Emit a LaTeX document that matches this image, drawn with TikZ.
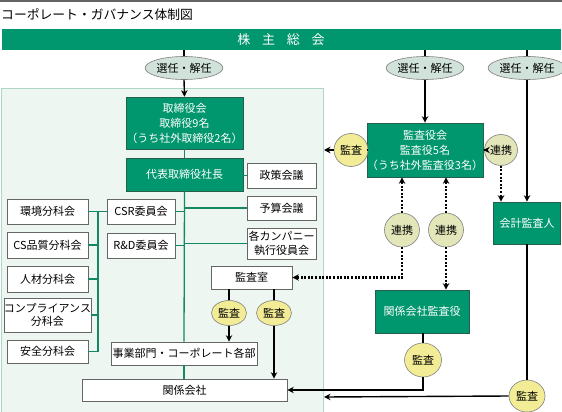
\documentclass[tikz,border=0pt]{standalone}
\usepackage{fontspec}
\setmainfont{Noto Sans CJK JP}
\usetikzlibrary{arrows.meta,shapes.geometric}
\definecolor{gfill}{RGB}{0,150,110}
\definecolor{gedge}{RGB}{40,95,75}
\definecolor{gline}{RGB}{20,135,100}
\definecolor{panelfill}{RGB}{238,246,241}
\definecolor{panelline}{RGB}{175,215,200}
\definecolor{selfill}{RGB}{208,226,217}
\definecolor{kansafill}{RGB}{242,236,150}
\definecolor{renfill}{RGB}{226,230,185}
\definecolor{topgray}{RGB}{100,100,100}
\begin{document}
\begin{tikzpicture}[x=1pt,y=-1pt,
 gbox/.style={draw=gedge, line width=0.6pt, fill=gfill, text=white, inner sep=0pt, align=center, font=\fontsize{11}{15}\selectfont},
 wbox/.style={draw=gray!80!black, line width=0.7pt, fill=white, inner sep=0pt, align=center, font=\fontsize{11}{13.5}\selectfont},
 selell/.style={ellipse, draw=gray, line width=0.6pt, fill=selfill, minimum width=63pt, minimum height=23pt, inner sep=0pt, font=\fontsize{11}{12}\selectfont},
 kansa/.style={ellipse, draw=gray, line width=0.6pt, fill=kansafill, inner sep=0pt, font=\fontsize{11}{12}\selectfont},
 renkei/.style={ellipse, draw=gray, line width=0.6pt, fill=renfill, inner sep=0pt, font=\fontsize{11}{12}\selectfont},
 arr/.style={line width=1.4pt, -{Stealth[length=6.5pt,width=6.5pt]}},
 ln/.style={line width=1.4pt},
 dotln/.style={line width=2.3pt, dash pattern=on 2pt off 1.6pt},
 dotarr/.style={dotln, -{Stealth[length=6.5pt,width=6.5pt]}},
 tree/.style={draw=gline, line width=1.3pt}
]
\useasboundingbox (0,0) rectangle (562,412);
% top line and title
\fill[topgray] (0,0) rectangle (562,1.8);
\node[anchor=west, inner sep=0pt, font=\fontsize{12.8}{14}\selectfont] (title) at (1,15) {コーポレート・ガバナンス体制図};
% panel
\draw[panelline, fill=panelfill, line width=1pt] (1.5,88) rectangle (323,413);
% bar
\node[fill=gfill, text=white, minimum width=559pt, minimum height=21pt, inner sep=0pt, font=\fontsize{13}{14}\selectfont] (bar) at (281,39.5) {株\hspace{0.9em}主\hspace{0.9em}総\hspace{0.9em}会};
% ellipses 選任・解任
\node[selell] (sn1) at (184,68) {選任・解任};
\node[selell] (sn2) at (425,68) {選任・解任};
\node[selell] (sn3) at (527,68) {選任・解任};
% green boxes
\node[gbox, minimum width=117pt, minimum height=52pt] (board) at (184.5,123) {取締役会\\取締役9名\\（うち社外取締役2名）};
\node[gbox, minimum width=117pt, minimum height=33pt] (pres) at (184.5,174.5) {代表取締役社長};
\node[gbox, minimum width=100pt, minimum height=54pt] (kansayaku) at (425,150) {監査役会\\監査役5名\\（うち社外監査役3名）};
\node[gbox, minimum width=67pt, minimum height=42pt] (kaikei) at (527,223) {会計監査人};
\node[gbox, minimum width=94pt, minimum height=43pt] (kankeikansa) at (422,311.5) {関係会社監査役};
% white boxes
\node[wbox, minimum width=69pt, minimum height=25pt] (seisaku) at (281.5,175.5) {政策会議};
\node[wbox, minimum width=69pt, minimum height=24pt] (yosan) at (281.5,208) {予算会議};
\node[wbox, minimum width=69pt, minimum height=31pt] (company) at (281.5,243.5) {各カンパニー\\執行役員会};
\node[wbox, minimum width=68pt, minimum height=25pt] (csr) at (141,211.5) {CSR委員会};
\node[wbox, minimum width=68pt, minimum height=25pt] (rd) at (141,245.5) {R\&D委員会};
\node[wbox, minimum width=81pt, minimum height=25pt] (kankyo) at (47.5,211.5) {環境分科会};
\node[wbox, minimum width=81pt, minimum height=26pt] (csq) at (47.5,245) {CS品質分科会};
\node[wbox, minimum width=81pt, minimum height=26pt] (jinzai) at (47.5,279) {人材分科会};
\node[wbox, minimum width=81pt, minimum height=34pt] (comp) at (47.5,315) {コンプライアンス\\分科会};
\node[wbox, minimum width=81pt, minimum height=23pt] (anzen) at (47.5,351.5) {安全分科会};
\node[wbox, minimum width=81pt, minimum height=23pt] (kansashitsu) at (251.5,277.5) {監査室};
\node[wbox, minimum width=146pt, minimum height=23pt] (jigyo) at (184,353.5) {事業部門・コーポレート各部};
\node[wbox, minimum width=205pt, minimum height=22pt] (kankei) at (184.5,390) {関係会社};
% audit / cooperation circles
\node[kansa, minimum width=34pt, minimum height=33pt] (ka1) at (351,150) {監査};
\node[renkei, minimum width=33pt, minimum height=31pt] (rk1) at (501,150) {連携};
\node[renkei, minimum width=35pt, minimum height=34pt] (rk2) at (402,230) {連携};
\node[renkei, minimum width=35pt, minimum height=34pt] (rk3) at (446,230) {連携};
\node[kansa, minimum width=35pt, minimum height=25pt] (ka2) at (229,313) {監査};
\node[kansa, minimum width=35pt, minimum height=25pt] (ka3) at (274,313) {監査};
\node[kansa, minimum width=37pt, minimum height=34pt] (ka4) at (423,360) {監査};
\node[kansa, minimum width=36pt, minimum height=32pt] (ka5) at (527,396) {監査};
\coordinate (bx) at (98,0);
\coordinate (edgeA) at (324,150);
\coordinate (edgeB) at (324,397);
% shareholders connectors
\draw[ln] (sn1.north |- bar.south) -- (sn1.north);
\draw[arr] (sn1.south) -- (board.north);
\draw[ln] (sn2.north |- bar.south) -- (sn2.north);
\draw[arr] (sn2.south) -- (kansayaku.north);
\draw[ln] (sn3.north |- bar.south) -- (sn3.north);
\draw[arr] (sn3.south) -- (kaikei.north);
% tree
\draw[tree] (board.south) -- (pres.north);
\draw[tree] (pres.south) -- (jigyo.north);
\draw[tree] (jigyo.south) -- (jigyo.south |- kankei.north);
\draw[tree] (pres.east |- seisaku.west) -- (seisaku.west);
\draw[tree] (pres.south |- yosan.west) -- (yosan.west);
\draw[tree] (pres.south |- company.west) -- (company.west);
\draw[tree] (csr.east) -- (pres.south |- csr.east);
\draw[tree] (rd.east) -- (pres.south |- rd.east);
\draw[tree] (kankyo.east) -- (csr.west);
\draw[tree] (anzen.east) -| (bx |- kankyo.east);
\draw[tree] (csq.east) -- (csq.east -| bx);
\draw[tree] (jinzai.east) -- (jinzai.east -| bx);
\draw[tree] (comp.east) -- (comp.east -| bx);
% internal audit
\draw[ln] (kansashitsu.south -| ka2) -- (ka2.north);
\draw[arr] (ka2.south) -- (ka2.south |- jigyo.north);
\draw[ln] (kansashitsu.south -| ka3) -- (ka3.north);
\draw[arr] (ka3.south) -- (ka3.south |- kankei.north);
% board of auditors
\draw[ln] (kansayaku.west) -- (ka1.east);
\draw[arr] (ka1.west) -- (edgeA);
\draw[arr] (rk1.west) -- (rk1.west -| kansayaku.east);
\draw[dotarr] (rk1.south) -- (rk1.south |- kaikei.north);
\draw[dotarr] (rk2.north) -- (rk2.north |- kansayaku.south);
\draw[dotarr] (rk2.south) |- (kansashitsu.east);
\draw[dotarr] (rk3.north) -- (rk3.north |- kansayaku.south);
\draw[dotarr] (rk3.south) -- (rk3.south |- kankeikansa.north);
% affiliated auditors
\draw[ln] (kankeikansa.south -| ka4) -- (ka4.north);
\draw[arr] (ka4.south) |- (kankei.east);
% accounting auditor
\draw[ln] (kaikei.south -| ka5) -- (ka5.north);
\draw[arr] (ka5.west) -- (edgeB);
\end{tikzpicture}
\end{document}
